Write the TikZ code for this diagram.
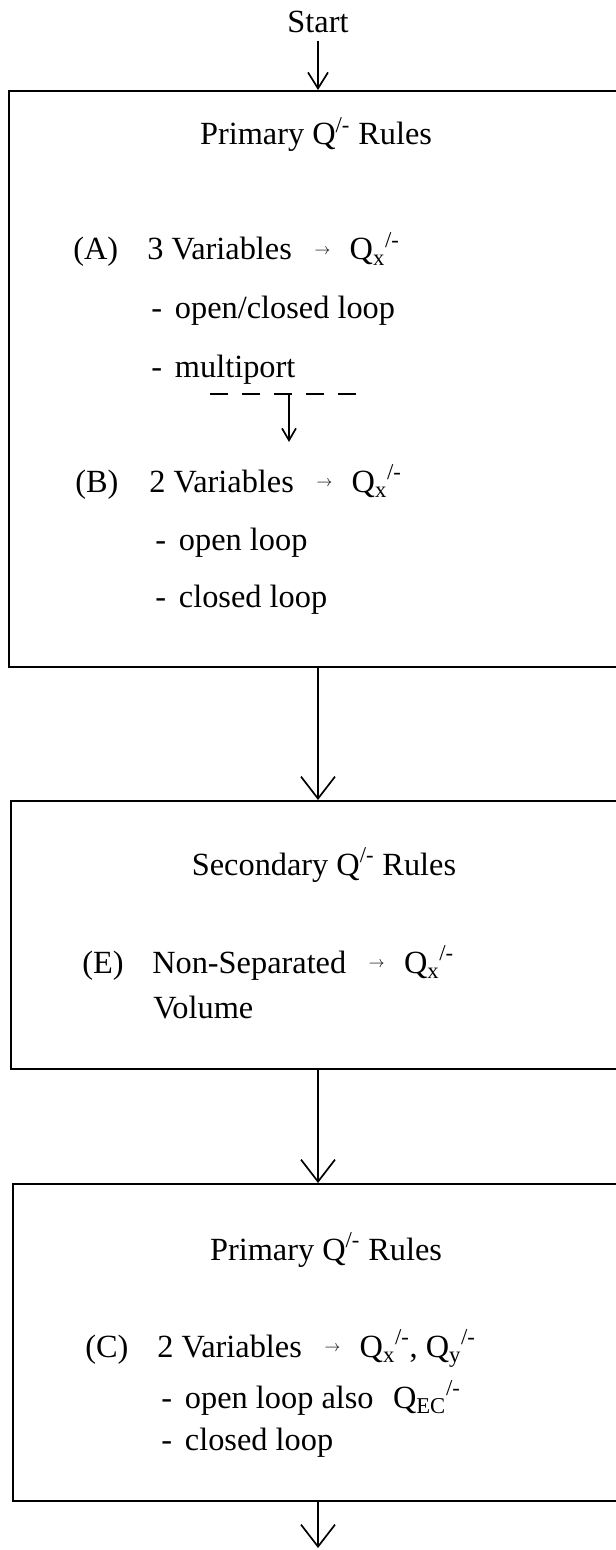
\documentclass[tikz,border=0pt]{standalone}
\usepackage{fontspec}
\setmainfont{Liberation Serif}
\usepackage{graphicx}
\usetikzlibrary{arrows.meta}
\newcommand{\smallto}{\hspace{0.7em}\raisebox{0.17em}{\scalebox{0.45}{$\rightarrow$}}\hspace{0.6em}}
\newcommand{\qt}{Q\textsuperscript{/-}}
\newcommand{\qs}[1]{Q\textsubscript{#1}\textsuperscript{/-}}
\tikzset{
  panel/.style={rectangle, draw, line width=1.6pt, anchor=north},
  txt/.style={inner sep=0pt, anchor=base west, font=\fontsize{23}{28}\selectfont},
  head/.style={txt, anchor=base},
  flow/.style={-{Straight Barb[length=5.5mm, width=8.5mm]}, line width=1.2pt},
  startflow/.style={-{Straight Barb[length=4mm, width=5mm]}, line width=1.2pt},
  subflow/.style={-{Straight Barb[length=3mm, width=3.5mm]}, line width=1.2pt},
  bus/.style={dashed, dash pattern=on 0.45cm off 0.35cm, line width=1.3pt}
}
\begin{document}
\begin{tikzpicture}[x=0.025cm, y=-0.025cm]
  \useasboundingbox (0,0) rectangle (616,1550);
  \clip (0,0) rectangle (616,1550);

  \node[head] (start) at (318,33) {Start};

  % first block
  \node[panel, minimum width=15.45cm, minimum height=14.4cm] (box1) at (318,90) {};
  \node[head] (t1) at (316,145) {Primary \qt{} Rules};
  \node[txt] (lblA) at (73,260) {(A)};
  \node[txt] (rowA) at (147,260) {3 Variables\smallto\qs{x}};
  \node[txt] (itA1) at (151,318) {-\hspace{0.4em}open/closed loop};
  \node[txt] (itA2) at (151,377) {-\hspace{0.4em}multiport};
  \coordinate (busL) at (210,394);
  \coordinate (busR) at (368,394);
  \coordinate (fork) at (289,394);
  \coordinate (forkend) at (289,442);
  \node[txt] (lblB) at (75,492) {(B)};
  \node[txt] (rowB) at (149,492) {2 Variables\smallto\qs{x}};
  \node[txt] (itB1) at (155,550) {-\hspace{0.4em}open loop};
  \node[txt] (itB2) at (155,607) {-\hspace{0.4em}closed loop};

  % second block
  \node[panel, minimum width=15.35cm, minimum height=6.7cm] (box2) at (318,800) {};
  \node[head] (t2) at (324,875) {Secondary \qt{} Rules};
  \node[txt] (lblE) at (82,973) {(E)};
  \node[txt] (rowE) at (152,973) {Non-Separated\smallto\qs{x}};
  \node[txt] (rowE2) at (153,1018) {Volume};

  % third block
  \node[panel, minimum width=15.25cm, minimum height=7.925cm] (box3) at (318,1183) {};
  \node[head] (t3) at (326,1260) {Primary \qt{} Rules};
  \node[txt] (lblC) at (85,1357) {(C)};
  \node[txt] (rowC) at (157,1357) {2 Variables\smallto\qs{x}, \qs{y}};
  \node[txt] (itC1) at (161,1408) {-\hspace{0.4em}open loop also\hspace{0.6em}\qs{EC}};
  \node[txt] (itC2) at (161,1450) {-\hspace{0.4em}closed loop};
  \coordinate (tail) at (318,1548);

  \draw[startflow, shorten <=5pt] (start.south) -- (box1.north);
  \draw[bus] (busL) -- (busR);
  \draw[subflow] (fork) -- (forkend);
  \draw[flow] (box1.south) -- (box2.north);
  \draw[flow] (box2.south) -- (box3.north);
  \draw[flow] (box3.south) -- (tail);
\end{tikzpicture}
\end{document}
